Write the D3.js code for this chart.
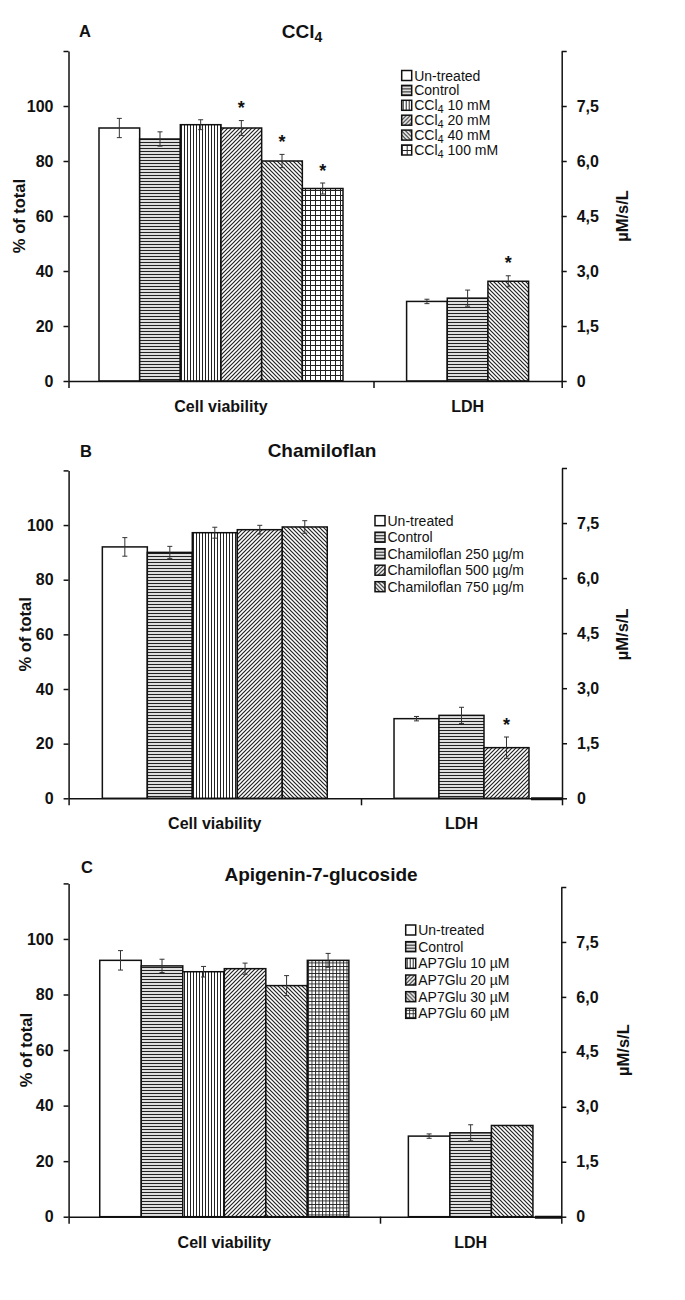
<!DOCTYPE html>
<html>
<head>
<meta charset="utf-8">
<script src="https://cdn.jsdelivr.net/npm/d3@7"></script>
<style>
  body { margin: 0; background: #fff; }
  svg { display: block; font-family: Arial, 'Liberation Sans', sans-serif; }
</style>
</head>
<body>
<svg id="chart" width="685" height="1300"></svg>
<script>
const letters = ['A', 'B', 'C'];
const titles = ['CCl4', 'Chamiloflan', 'Apigenin-7-glucoside'];
const groupLabels = ['Cell viability', 'LDH'];
const leftTicks = [0, 20, 40, 60, 80, 100, 120];
const rightTicks = [0, 1.5, 3, 4.5, 6, 7.5, 9];

// panel A: CCl4
const seriesA = ['Un-treated', 'Control', 'CCl4 10 mM', 'CCl4 20 mM', 'CCl4 40 mM', 'CCl4 100 mM'];
const viabilityA = [92, 88, 93.2, 92, 80, 70];
const viabilityErrA = [3.5, 2.6, 1.8, 2.7, 2.4, 2];
const viabilityStarA = [0, 0, 0, 1, 1, 1];
const ldhA = [2.17, 2.26, 2.72];
const ldhErrA = [0.06, 0.22, 0.15];
const ldhStarA = [0, 0, 1];

// panel B: Chamiloflan
const seriesB = ['Un-treated', 'Control', 'Chamiloflan 250 µg/m', 'Chamiloflan 500 µg/m', 'Chamiloflan 750 µg/m'];
const viabilityB = [92, 90, 97.2, 98.3, 99.3];
const viabilityErrB = [3.4, 2.2, 2, 1.6, 2.3];
const viabilityStarB = [0, 0, 0, 0, 0];
const ldhB = [2.17, 2.26, 1.38, 0];
const ldhErrB = [0.06, 0.22, 0.29, 0];
const ldhStarB = [0, 0, 1, 0];

// panel C: Apigenin-7-glucoside
const seriesC = ['Un-treated', 'Control', 'AP7Glu 10 µM', 'AP7Glu 20 µM', 'AP7Glu 30 µM', 'AP7Glu 60 µM'];
const viabilityC = [92.3, 90.3, 88.2, 89.3, 83.2, 92.3];
const viabilityErrC = [3.5, 2.4, 1.9, 2, 3.6, 2.5];
const viabilityStarC = [0, 0, 0, 0, 0, 0];
const ldhC = [2.2, 2.29, 2.49, 0];
const ldhErrC = [0.06, 0.22, 0, 0];
const ldhStarC = [0, 0, 0, 0];

// fill styles (pattern ids) for bars and legend swatches
const fillsViabA = ['white', 'hlines', 'vlines', 'fwd', 'back', 'grid'];
const fillsLdhA = ['white', 'hlines', 'back'];
const fillsLegA = ['white', 'hlines', 'vlines', 'fwd', 'back', 'grid'];
const fillsViabB = ['white', 'hlines', 'vlines', 'fwd', 'back'];
const fillsLdhB = ['white', 'hlines', 'fwd', 'white'];
const fillsLegB = ['white', 'hlines', 'hlines', 'fwd', 'back'];
const fillsViabC = ['white', 'hlines', 'vlines', 'fwd', 'back', 'fine'];
const fillsLdhC = ['white', 'hlines', 'back', 'white'];
const fillsLegC = ['white', 'hlines', 'vlines', 'fwd', 'back', 'fine'];

const panels = [
  { series: seriesA, viab: viabilityA, viabErr: viabilityErrA, viabStar: viabilityStarA, ldh: ldhA, ldhErr: ldhErrA, ldhStar: ldhStarA, viabFill: fillsViabA, ldhFill: fillsLdhA, legFill: fillsLegA },
  { series: seriesB, viab: viabilityB, viabErr: viabilityErrB, viabStar: viabilityStarB, ldh: ldhB, ldhErr: ldhErrB, ldhStar: ldhStarB, viabFill: fillsViabB, ldhFill: fillsLdhB, legFill: fillsLegB },
  { series: seriesC, viab: viabilityC, viabErr: viabilityErrC, viabStar: viabilityStarC, ldh: ldhC, ldhErr: ldhErrC, ldhStar: ldhStarC, viabFill: fillsViabC, ldhFill: fillsLdhC, legFill: fillsLegC },
];

// where each panel sits on the page
const layout = [
  { left: 68.5, right: 561.7, top: 51, rtop: 51, base: 381, split: 373.5, letterX: 79, letterY: 37, titleX: 302, titleY: 38, ylabX: 19, rlabX: 622, legX: 401.7, legY: 75.5, legStep: 14.9 },
  { left: 68.6, right: 562, top: 470.4, rtop: 468, base: 798.3, split: 361, letterX: 80, letterY: 457, titleX: 322, titleY: 457, ylabX: 25, rlabX: 622, legX: 375, legY: 520.7, legStep: 16.5 },
  { left: 68.6, right: 561.3, top: 883.4, rtop: 887, base: 1216.7, split: 380, letterX: 81, letterY: 873, titleX: 321, titleY: 881, ylabX: 26, rlabX: 623, legX: 405.7, legY: 930, legStep: 16.67 },
];

const ink = '#111';
const svg = d3.select('#chart');
const defs = svg.append('defs');

function pattern(id, w, h, pathD, sw) {
  const p = defs.append('pattern')
    .attr('id', id)
    .attr('patternUnits', 'userSpaceOnUse')
    .attr('width', w)
    .attr('height', h);
  p.append('rect').attr('width', w).attr('height', h).attr('fill', '#fff');
  if (pathD) {
    p.append('path').attr('d', pathD).attr('stroke', '#222').attr('stroke-width', sw).attr('fill', 'none');
  }
}
pattern('white', 4, 4, null, 0);
pattern('hlines', 4, 3, 'M0,1.5H4', 1.3);
pattern('vlines', 3, 4, 'M1.5,0V4', 1);
pattern('fwd', 4, 4, 'M0,4L4,0M-1,1L1,-1M3,5L5,3', 1.2);
pattern('back', 4, 4, 'M0,0L4,4M-1,3L1,5M3,-1L5,1', 1.2);
pattern('grid', 5, 5, 'M0,0.5H5M0.5,0V5', 1);
pattern('fine', 3.5, 3.5, 'M0,0.5H3.5M0.5,0V3.5', 0.9);

// writes "CCl4" with the 4 as a subscript
function richText(sel, str, subSize, shift) {
  const m = str.match(/^(CCl)4(.*)$/);
  if (!m) {
    sel.text(str);
    return;
  }
  sel.append('tspan').text(m[1]);
  sel.append('tspan').attr('font-size', subSize).attr('dy', shift).text('4');
  if (m[2]) sel.append('tspan').attr('dy', -shift).text(m[2]);
}

const commaFormat = d => (d === 0 ? '0' : d3.format('.1f')(d).replace('.', ','));

function styleAxis(g) {
  g.attr('font-size', 16)
    .attr('font-family', "Arial, 'Liberation Sans', sans-serif")
    .attr('font-weight', 'bold');
  g.select('.domain').attr('stroke', ink).attr('stroke-width', 1.5);
  g.selectAll('.tick line').attr('stroke', ink).attr('stroke-width', 1.5);
  g.selectAll('.tick text').attr('fill', ink);
}

function drawPanel(p, i) {
  const L = layout[i];
  const g = svg.append('g');

  const yL = d3.scaleLinear().domain([0, 120]).range([L.base, L.top]);
  const yR = d3.scaleLinear().domain([0, 9]).range([L.base, L.rtop]);

  const nCell = p.viab.length;
  const w = (L.split - L.left) / (nCell + 1.5);
  const cellCenter = (L.left + L.split) / 2;
  const ldhCenter = (L.split + L.right) / 2;
  const nLdh = p.ldh.filter(v => v > 0).length;
  const xCell = d3.scaleBand()
    .domain(d3.range(nCell))
    .range([cellCenter - (nCell * w) / 2, cellCenter + (nCell * w) / 2]);
  const ldhStart = ldhCenter - (nLdh * w) / 2;
  const xLdh = d3.scaleBand()
    .domain(d3.range(p.ldh.length))
    .range([ldhStart, ldhStart + p.ldh.length * w]);

  const bars = [
    ...p.viab.map((v, j) => ({ x: xCell(j), v, err: p.viabErr[j], star: p.viabStar[j], fill: p.viabFill[j], y: yL })),
    ...p.ldh.map((v, j) => ({ x: xLdh(j), v, err: p.ldhErr[j], star: p.ldhStar[j], fill: p.ldhFill[j], y: yR })),
  ];

  const clipId = `clip${i}`;
  defs.append('clipPath').attr('id', clipId)
    .append('rect')
    .attr('x', L.left)
    .attr('y', L.top - 40)
    .attr('width', L.right - L.left)
    .attr('height', L.base - L.top + 44);

  const barG = g.append('g').attr('clip-path', `url(#${clipId})`);
  barG.selectAll('rect')
    .data(bars.filter(d => d.v > 0))
    .join('rect')
    .attr('x', d => d.x)
    .attr('y', d => d.y(d.v))
    .attr('width', w)
    .attr('height', d => L.base - d.y(d.v))
    .attr('fill', d => `url(#${d.fill})`)
    .attr('stroke', ink)
    .attr('stroke-width', 1.5);
  // a zero bar shows only as its flattened outline on the baseline
  barG.selectAll('line')
    .data(bars.filter(d => d.v === 0))
    .join('line')
    .attr('x1', d => d.x + 2)
    .attr('x2', d => d.x + w)
    .attr('y1', d => d.y(0) + 0.5)
    .attr('y2', d => d.y(0) + 0.5)
    .attr('stroke', ink)
    .attr('stroke-width', 3);

  // error bars
  const errG = g.append('g').attr('stroke', '#333').attr('stroke-width', 1);
  const withErr = bars.filter(d => d.err > 0);
  errG.selectAll('.stem')
    .data(withErr)
    .join('line')
    .attr('x1', d => d.x + w / 2)
    .attr('x2', d => d.x + w / 2)
    .attr('y1', d => d.y(d.v + d.err))
    .attr('y2', d => d.y(d.v - d.err));
  errG.selectAll('.capTop')
    .data(withErr)
    .join('line')
    .attr('x1', d => d.x + w / 2 - 2.5)
    .attr('x2', d => d.x + w / 2 + 2.5)
    .attr('y1', d => d.y(d.v + d.err))
    .attr('y2', d => d.y(d.v + d.err));
  errG.selectAll('.capBot')
    .data(withErr)
    .join('line')
    .attr('x1', d => d.x + w / 2 - 2.5)
    .attr('x2', d => d.x + w / 2 + 2.5)
    .attr('y1', d => d.y(d.v - d.err))
    .attr('y2', d => d.y(d.v - d.err));

  // significance stars
  g.append('g')
    .selectAll('text')
    .data(bars.filter(d => d.star))
    .join('text')
    .attr('x', d => d.x + w / 2)
    .attr('y', d => d.y(d.v + d.err) - 6.5)
    .attr('text-anchor', 'middle')
    .attr('font-size', 18)
    .attr('font-weight', 'bold')
    .attr('fill', ink)
    .text('*');

  // axes
  g.append('g')
    .attr('transform', `translate(${L.left},0)`)
    .call(d3.axisLeft(yL).tickValues(leftTicks).tickSize(5).tickSizeOuter(0).tickPadding(10)
      .tickFormat(d => (d === 120 ? '' : d)))
    .call(styleAxis);
  g.append('g')
    .attr('transform', `translate(${L.right},0)`)
    .call(d3.axisRight(yR).tickValues(rightTicks).tickSize(5).tickSizeOuter(0).tickPadding(10)
      .tickFormat(d => (d === 9 ? '' : commaFormat(d))))
    .call(styleAxis);
  const xEdge = d3.scaleLinear().domain([L.left, L.right]).range([L.left, L.right]);
  g.append('g')
    .attr('transform', `translate(0,${L.base})`)
    .call(d3.axisBottom(xEdge).tickValues([L.left, L.split, L.right]).tickSize(7).tickSizeOuter(0).tickFormat(''))
    .call(styleAxis);

  // category labels
  g.selectAll('.cat')
    .data(groupLabels)
    .join('text')
    .attr('x', (d, k) => (k === 0 ? cellCenter : ldhCenter))
    .attr('y', L.base + 31)
    .attr('text-anchor', 'middle')
    .attr('font-size', 16)
    .attr('font-weight', 'bold')
    .attr('fill', ink)
    .text(d => d);

  // axis titles
  g.append('text')
    .attr('transform', `translate(${L.ylabX},${(L.top + L.base) / 2}) rotate(-90)`)
    .attr('dy', '0.35em')
    .attr('text-anchor', 'middle')
    .attr('font-size', 16.5)
    .attr('font-weight', 'bold')
    .attr('fill', ink)
    .text('% of total');
  g.append('text')
    .attr('transform', `translate(${L.rlabX},${(L.top + L.base) / 2}) rotate(-90)`)
    .attr('dy', '0.35em')
    .attr('text-anchor', 'middle')
    .attr('font-size', 16.5)
    .attr('font-weight', 'bold')
    .attr('fill', ink)
    .text('µM/s/L');

  // panel letter and title
  g.append('text')
    .attr('x', L.letterX)
    .attr('y', L.letterY)
    .attr('font-size', 16.5)
    .attr('font-weight', 'bold')
    .attr('fill', ink)
    .text(letters[i]);
  g.append('text')
    .attr('x', L.titleX)
    .attr('y', L.titleY)
    .attr('text-anchor', 'middle')
    .attr('font-size', 19)
    .attr('font-weight', 'bold')
    .attr('fill', ink)
    .call(t => richText(t, titles[i], 14, 4));

  // legend
  const leg = g.append('g')
    .selectAll('g')
    .data(p.series)
    .join('g')
    .attr('transform', (d, k) => `translate(${L.legX},${L.legY + k * L.legStep})`);
  leg.append('rect')
    .attr('x', 0)
    .attr('y', -5)
    .attr('width', 10)
    .attr('height', 10)
    .attr('fill', (d, k) => `url(#${p.legFill[k]})`)
    .attr('stroke', ink)
    .attr('stroke-width', 1.5);
  leg.append('text')
    .attr('x', 12.5)
    .attr('dy', '0.36em')
    .attr('font-size', 14)
    .attr('fill', ink)
    .each(function (d) {
      richText(d3.select(this), d, 11, 3);
    });
}

panels.forEach(drawPanel);
</script>
</body>
</html>
